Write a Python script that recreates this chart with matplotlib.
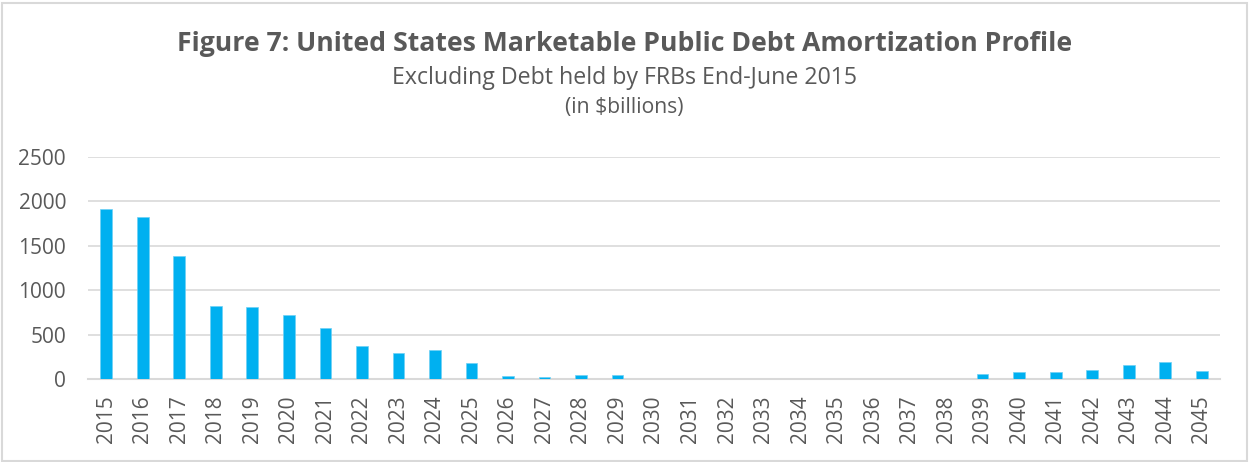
import matplotlib
matplotlib.use("Agg")
import matplotlib.pyplot as plt
from matplotlib.patches import Rectangle

years = [str(y) for y in range(2015, 2046)]
amounts = [1909, 1826, 1380, 817, 814, 716, 570, 367, 296, 330, 184,
           30, 28, 41, 41, 2, 4, 2, 0, 0, 0, 5, 3, 5,
           52, 82, 75, 101, 157, 187, 86]
yticks = [0, 500, 1000, 1500, 2000, 2500]

title = "Figure 7: United States Marketable Public Debt Amortization Profile"
subtitle = "Excluding Debt held by FRBs End-June 2015"
unit_line = "(in $billions)"

TXT = "#595959"
GRID = "#d9d9d9"
BAR = "#00B0F0"

plt.rcParams["font.family"] = ["Open Sans", "DejaVu Sans"]

W, H = 1249, 462
fig = plt.figure(figsize=(W / 100, H / 100), dpi=100)
ax = fig.add_axes([88 / W, 1 - 379 / H, (1220 - 88) / W, (379 - 157) / H])

x = list(range(len(years)))
ax.bar(x, amounts, width=0.32, color=BAR, edgecolor="#6fd0f5", linewidth=0.5, zorder=3)
ax.set_xlim(-0.5, len(years) - 0.5)
ax.set_ylim(0, 2500)
ax.set_yticks(yticks)
ax.set_yticklabels([str(v) for v in yticks])
ax.set_xticks(x)
ax.set_xticklabels(years, rotation=90)
ax.grid(axis="y", color=GRID, linewidth=1.2, zorder=0)
ax.set_axisbelow(True)
for s in ["top", "right", "left"]:
    ax.spines[s].set_visible(False)
ax.spines["bottom"].set_color(GRID)
ax.spines["bottom"].set_linewidth(1.5)
ax.tick_params(axis="both", length=0, colors=TXT, labelsize=15)
ax.tick_params(axis="y", pad=15.8)
ax.tick_params(axis="x", pad=12)

def fit_text(y, s, target_w, weight="normal", size=16):
    t = fig.text(0.5, y, s, ha="center", va="center", color=TXT,
                 fontsize=size, fontweight=weight)
    r = fig.canvas.get_renderer()
    w = t.get_window_extent(renderer=r).width
    t.set_fontsize(size * target_w / w)
    return t

fit_text(1 - 44 / H, title, 894, weight="bold", size=20)
fit_text(1 - 78 / H, subtitle, 465, size=16)
fit_text(1 - 107 / H, unit_line, 118, size=12)

fig.patches.append(Rectangle((1.5 / W, 1.5 / H), (W - 4) / W, (H - 4) / H,
                             transform=fig.transFigure, fill=False,
                             edgecolor=GRID, linewidth=1.5))

fig.savefig("out.png", dpi=100)
